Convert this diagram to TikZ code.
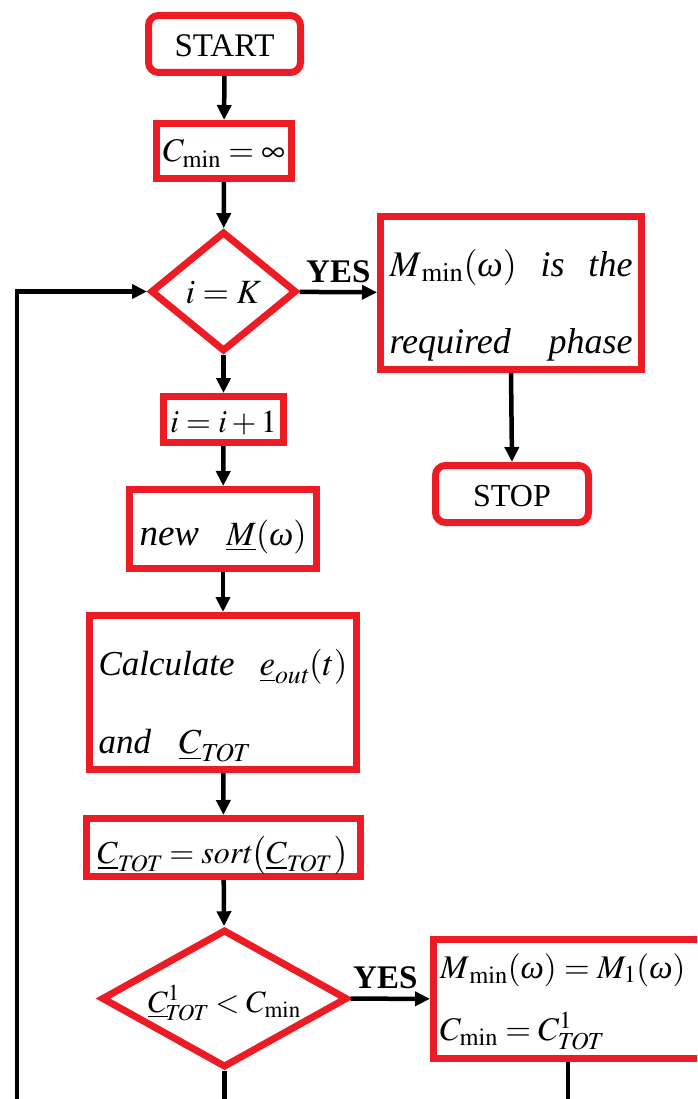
\documentclass[tikz,border=0pt]{standalone}
\usepackage{mathptmx}
\usepackage[no-math]{fontspec}
\setmainfont{Liberation Serif}
\usetikzlibrary{shapes.geometric,arrows.meta}
\definecolor{fred}{RGB}{237,28,36}
\newcommand{\fsz}[1]{\fontsize{#1}{#1}\selectfont}
% put content with its (first) baseline #1 below the node centre, zero size
\newcommand{\blx}[2]{\raisebox{-#1}[0pt][0pt]{#2}}
\newcommand{\omg}{\mbox{\itshape ω}}
\newcommand{\tot}{\mathit{TOT}}
\begin{document}
\begin{tikzpicture}[x=1pt,y=-1pt,
  box/.style={draw=fred,line width=7pt,inner sep=0pt,rectangle},
  rbox/.style={box,rounded corners=10pt},
  dia/.style={draw=fred,line width=7pt,inner sep=0pt,diamond},
  arr/.style={line width=4.5pt,-{Triangle[length=15pt,width=14pt]}},
  ln/.style={line width=4.5pt},
  yes/.style={font=\fsz{33}\bfseries,inner sep=0pt,anchor=base west}
]
\useasboundingbox (0,0) rectangle (697,1099);
\clip (0,0) rectangle (697,1099);
\fill[white] (0,0) rectangle (697,1099);

\node[rbox,minimum width=152pt,minimum height=57pt] (start) at (224.5,44)
  {\blx{13pt}{\fsz{33}START}};
\node[box,minimum width=135pt,minimum height=55pt] (cmin) at (224,151)
  {\blx{11pt}{\fsz{33}$C_{\min}=\infty$}};
\node[dia,minimum width=146pt,minimum height=120pt] (d1) at (223.5,291.5)
  {\blx{11.5pt}{\fsz{34}$i=K$}};
\node[box,minimum width=261pt,minimum height=153pt] (res) at (511,293)
  {\blx{-17pt}{\parbox[t]{243pt}{\fontsize{36}{77}\selectfont
     \hbox to \linewidth{$M_{\,\min}(\omg)$\hfill\textit{is}\hfill\textit{the}}
     \hbox to \linewidth{\textit{required}\hfill\textit{phase}}}}};
\node[rbox,minimum width=153pt,minimum height=57pt] (stop) at (512,494)
  {\blx{12pt}{\fsz{32}STOP}};
\node[box,minimum width=120pt,minimum height=46pt] (inc) at (223.5,419.5)
  {\blx{12.5pt}{\fsz{32}$i=i+1$}};
\node[box,minimum width=187pt,minimum height=79pt] (newm) at (223,529)
  {\blx{16pt}{\hbox to 167pt{\fsz{37}\textit{new}\hfill\fsz{34}$\underline{M}(\omg)$}}};
\node[box,minimum width=267pt,minimum height=154pt] (calc) at (223,692.5)
  {\blx{-17.5pt}{\parbox[t]{249pt}{\fontsize{35}{78}\selectfont
     \hbox to \linewidth{\textit{Calculate}\hfill$\underline{e}_{\mathit{out}}(t)$}
     \hbox to \linewidth{\textit{and}\hspace{28pt}$\underline{C}_{\tot}$\hfill}}}};
\node[box,minimum width=274pt,minimum height=58pt] (sort) at (223.5,847.5)
  {\blx{15.5pt}{\fsz{32}$\underline{C}_{\tot}=\mathit{sort}\bigl(\underline{C}_{\tot}\,\bigr)$}};
\node[dia,minimum width=246pt,minimum height=138pt,aspect=1.78] (d2) at (224.5,998.5)
  {\blx{13.5pt}{\fsz{31}$\underline{C}^{1}_{\!\tot}<C_{\min}$}};
\node[box,minimum width=269pt,minimum height=119pt] (upd) at (568,999)
  {\blx{-21pt}{\parbox[t]{256pt}{\fontsize{33}{62}\selectfont
     \hbox to \linewidth{$M_{\,\min}(\omg)=M_{1}(\omg)$\hfill}
     \hbox to \linewidth{$C_{\min}=C^{1}_{\tot}$\hfill}}}};

\coordinate (loopb) at (17,1120);
\coordinate (d2b) at (224.5,1120);
\coordinate (updb) at (568,1120);

\draw[arr] (start) -- (cmin);
\draw[arr] (cmin) -- (d1);
\draw[arr] (d1) -- (res);
\draw[arr] (res.south) -- (stop.north);
\draw[arr] (d1) -- (inc);
\draw[arr] (inc) -- (newm);
\draw[arr] (newm) -- (calc);
\draw[arr] (calc) -- (sort);
\draw[arr] (sort) -- (d2);
\draw[arr] (d2) -- (upd);
\draw[ln] (d2.south) -- (d2b);
\draw[ln] (upd.south) -- (updb);
\draw[arr] (loopb) |- (d1.west);

\node[yes] (yes1) at (306,282) {YES};
\node[yes] (yes2) at (353,988) {YES};
\end{tikzpicture}
\end{document}
